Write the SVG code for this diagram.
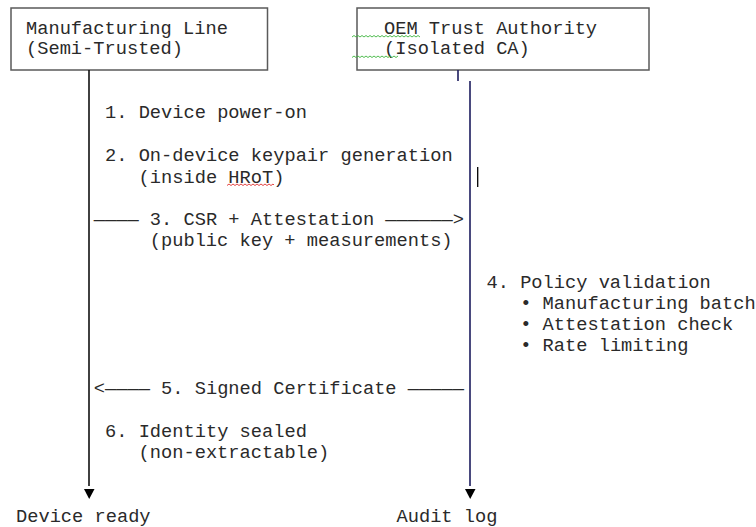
<svg xmlns="http://www.w3.org/2000/svg" width="756" height="527" viewBox="0 0 756 527">
<style>
text{font-family:"Liberation Mono","Courier New",monospace;font-size:18.7px;fill:#2a2a2a}
.box{fill:#fff;stroke:#5a5a5a;stroke-width:1.5}
.life{stroke:#111;stroke-width:1.6;fill:none}
.life2{stroke:#1c1c5e;stroke-width:1.6;fill:none}
.head{fill:#000}
.sq{fill:none;stroke-width:0.9}
</style>
<rect width="756" height="527" fill="#fff"/>
<g id="manufacturing-line">
<rect class="box" x="11" y="8" width="256.5" height="62"/>
<text x="26" y="33.5">Manufacturing Line</text>
<text x="26" y="54">(Semi-Trusted)</text>
</g>
<g id="oem-trust-authority">
<rect class="box" x="357" y="8" width="292" height="62"/>
<text x="384" y="33.5">OEM Trust Authority</text>
<text x="384" y="54">(Isolated CA)</text>
<polyline class="sq" stroke="#3cb43c" points="352,37 354,35.5 356,37 358,35.5 360,37 362,35.5 364,37 366,35.5 368,37 370,35.5 372,37 374,35.5 376,37 378,35.5 380,37 382,35.5 384,37 386,35.5 388,37 390,35.5 392,37 394,35.5 396,37 398,35.5 400,37 402,35.5 404,37 406,35.5 408,37 410,35.5 412,37 414,35.5 416,37 418,35.5 420,37"/>
<polyline class="sq" stroke="#3cb43c" points="352,57.5 354,56 356,57.5 358,56 360,57.5 362,56 364,57.5 366,56 368,57.5 370,56 372,57.5 374,56 376,57.5 378,56 380,57.5 382,56 384,57.5 386,56 388,57.5 390,56 392,57.5 394,56 396,57.5 398,56"/>
</g>
<g id="connectors">
<line class="life" x1="89" y1="70" x2="89" y2="486"/>
<polygon class="head" points="84,489 94.5,489 89.2,499"/>
<line class="life2" x1="458" y1="70" x2="458" y2="81"/>
<line class="life2" x1="470" y1="81" x2="470" y2="486"/>
<polygon class="head" points="465,489 475.5,489 470.2,499"/>
<text x="93.8" y="224.5">———— 3. CSR + Attestation ——————&gt;</text>
<text x="149.8" y="245.5">(public key + measurements)</text>
<text x="93.8" y="394">&lt;———— 5. Signed Certificate —————</text>
</g>
<g id="steps">
<text x="105" y="117.5">1. Device power-on</text>
<text x="105" y="160.5">2. On-device keypair generation</text>
<text x="138.6" y="182.5">(inside HRoT)</text>
<polyline class="sq" stroke="#e03030" points="227,185.5 229,184 231,185.5 233,184 235,185.5 237,184 239,185.5 241,184 243,185.5 245,184 247,185.5 249,184 251,185.5 253,184 255,185.5 257,184 259,185.5 261,184 263,185.5 265,184 267,185.5 269,184 271,185.5 273,184 274,185"/>
<text x="486.5" y="287.5">4. Policy validation</text>
<text x="520.2" y="309">• Manufacturing batch</text>
<text x="520.2" y="330">• Attestation check</text>
<text x="520.2" y="351">• Rate limiting</text>
<text x="105" y="437">6. Identity sealed</text>
<text x="138.6" y="458">(non-extractable)</text>
<line x1="477.7" y1="167" x2="477.7" y2="187" stroke="#000" stroke-width="1.3"/>
</g>
<g id="ends">
<text x="16" y="522.3">Device ready</text>
<text x="396.5" y="522.3">Audit log</text>
</g>
</svg>
